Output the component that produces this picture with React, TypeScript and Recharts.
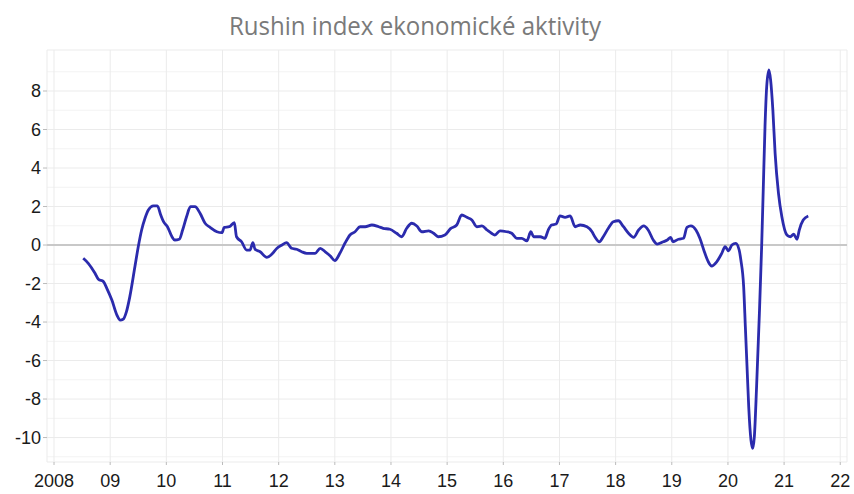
import React from "react";
import {
  LineChart,
  Line,
  XAxis,
  YAxis,
  CartesianGrid,
  ReferenceLine,
} from "recharts";

// decimal year of each reading
const dates = [
  2008.52, 2008.61, 2008.73, 2008.79, 2008.88, 2008.94, 2009.03, 2009.12, 2009.18, 2009.23,
  2009.29, 2009.35, 2009.44, 2009.5, 2009.56, 2009.62, 2009.68, 2009.77, 2009.84, 2009.9,
  2009.95, 2010.02, 2010.1, 2010.15, 2010.23, 2010.29, 2010.36, 2010.43, 2010.51, 2010.6,
  2010.69, 2010.78, 2010.9, 2010.99, 2011.03, 2011.12, 2011.21, 2011.25, 2011.34, 2011.43,
  2011.49, 2011.54, 2011.58, 2011.67, 2011.79, 2011.88, 2011.97, 2012.06, 2012.14, 2012.23,
  2012.32, 2012.41, 2012.5, 2012.65, 2012.74, 2012.83, 2012.92, 2013.0, 2013.09, 2013.18,
  2013.27, 2013.36, 2013.45, 2013.54, 2013.66, 2013.78, 2013.86, 2013.98, 2014.1, 2014.19,
  2014.28, 2014.37, 2014.46, 2014.55, 2014.67, 2014.76, 2014.84, 2014.96, 2015.06, 2015.17,
  2015.26, 2015.35, 2015.44, 2015.53, 2015.62, 2015.71, 2015.79, 2015.85, 2015.94, 2016.06,
  2016.15, 2016.24, 2016.33, 2016.42, 2016.49, 2016.54, 2016.66, 2016.74, 2016.8, 2016.86,
  2016.94, 2017.01, 2017.1, 2017.19, 2017.28, 2017.37, 2017.49, 2017.58, 2017.63, 2017.71,
  2017.78, 2017.87, 2017.96, 2018.05, 2018.14, 2018.23, 2018.32, 2018.41, 2018.5, 2018.58,
  2018.67, 2018.74, 2018.85, 2018.92, 2018.98, 2019.02, 2019.12, 2019.21, 2019.27, 2019.34,
  2019.43, 2019.5, 2019.58, 2019.65, 2019.71, 2019.8, 2019.89, 2019.95, 2020.01, 2020.07,
  2020.14, 2020.2, 2020.23, 2020.28, 2020.31, 2020.34, 2020.37, 2020.41, 2020.44, 2020.47,
  2020.51, 2020.56, 2020.6, 2020.63, 2020.66, 2020.69, 2020.73, 2020.76, 2020.8, 2020.84,
  2020.9, 2020.96, 2021.05, 2021.11, 2021.17, 2021.23, 2021.27, 2021.34, 2021.43,
];

const values = [
  -0.69, -0.95, -1.47, -1.78, -1.9, -2.25, -2.86, -3.64, -3.9, -3.86,
  -3.46, -2.68, -1.13, -0.09, 0.78, 1.39, 1.82, 2.03, 2.03, 1.56,
  1.21, 0.95, 0.43, 0.26, 0.3, 0.78, 1.47, 1.99, 1.99, 1.65,
  1.13, 0.92, 0.69, 0.64, 0.92, 0.95, 1.16, 0.43, 0.17, -0.26,
  -0.26, 0.12, -0.22, -0.35, -0.64, -0.47, -0.17, 0.0, 0.12, -0.17,
  -0.22, -0.35, -0.43, -0.43, -0.17, -0.35, -0.57, -0.81, -0.43, 0.09,
  0.52, 0.69, 0.95, 0.95, 1.04, 0.95, 0.87, 0.82, 0.61, 0.43,
  0.87, 1.13, 0.99, 0.69, 0.74, 0.61, 0.43, 0.52, 0.85, 1.04,
  1.56, 1.44, 1.3, 0.95, 0.99, 0.78, 0.61, 0.52, 0.74, 0.69,
  0.61, 0.35, 0.35, 0.22, 0.69, 0.43, 0.43, 0.35, 0.78, 1.04,
  1.09, 1.51, 1.44, 1.51, 0.95, 1.04, 0.95, 0.69, 0.43, 0.17,
  0.43, 0.87, 1.21, 1.26, 0.95, 0.61, 0.4, 0.78, 0.99, 0.78,
  0.26, 0.05, 0.17, 0.26, 0.4, 0.17, 0.3, 0.35, 0.92, 0.99,
  0.78, 0.35, -0.35, -0.87, -1.09, -0.87, -0.43, -0.09, -0.3, 0.0,
  0.09, -0.26, -0.78, -2.17, -4.24, -6.32, -8.4, -10.13, -10.56, -9.96,
  -7.36, -3.55, -0.09, 3.03, 6.15, 8.22, 9.09, 8.57, 7.01, 4.76,
  2.68, 1.47, 0.52, 0.43, 0.56, 0.3, 0.78, 1.3, 1.51,
];

const yearTicks = [2008, 2009, 2010, 2011, 2012, 2013, 2014, 2015, 2016, 2017, 2018, 2019, 2020, 2021, 2022];
const valueTicks = [-10, -8, -6, -4, -2, 0, 2, 4, 6, 8];
const minorValues = [-11, -9, -7, -5, -3, -1, 1, 3, 5, 7, 9];

const data = dates.map((t, i) => ({ t, v: values[i] }));

const fmtYear = (y: number) => (y === 2008 ? "2008" : String(y % 100).padStart(2, "0"));

const tickStyle = { fill: "#1a1a1a", fontSize: 18, fontFamily: "'Liberation Sans', Arial, sans-serif" };

export default function App() {
  return (
    <div style={{ position: "absolute", left: 0, top: 0, width: 854, height: 494, background: "#fff" }}>
      <svg width={854} height={50} style={{ position: "absolute", left: 0, top: 0 }}>
        <text
          x={415}
          y={35}
          textAnchor="middle"
          fontSize={25}
          fill="#7a7a7a"
          fontFamily="'Open Sans', sans-serif"
          textLength={372}
          lengthAdjust="spacingAndGlyphs"
        >
          Rushin index ekonomické aktivity
        </text>
      </svg>
      <LineChart
        width={854}
        height={494}
        data={data}
        margin={{ top: 50, right: 7, bottom: 0, left: 0 }}
      >
        <CartesianGrid horizontalValues={minorValues} vertical={false} stroke="#f3f3f3" strokeWidth={1} />
        <CartesianGrid stroke="#ebebeb" strokeWidth={1} />
        <XAxis
          dataKey="t"
          type="number"
          domain={[2007.875, 2022.12]}
          ticks={yearTicks}
          tickFormatter={fmtYear}
          axisLine={false}
          tickLine={{ stroke: "#bbbbbb" }}
          tickSize={3}
          tickMargin={9}
          height={32}
          tick={tickStyle}
          allowDataOverflow
        />
        <YAxis
          type="number"
          domain={[-11.27, 10.13]}
          ticks={valueTicks}
          axisLine={false}
          tickLine={{ stroke: "#bbbbbb" }}
          tickSize={4}
          tickMargin={2}
          width={47}
          tick={tickStyle}
          allowDataOverflow
        />
        <ReferenceLine y={0} stroke="#c8c8c8" strokeWidth={2} />
        <Line
          type="monotone"
          dataKey="v"
          stroke="#2b2bad"
          strokeWidth={2.8}
          dot={false}
          isAnimationActive={false}
        />
      </LineChart>
    </div>
  );
}
